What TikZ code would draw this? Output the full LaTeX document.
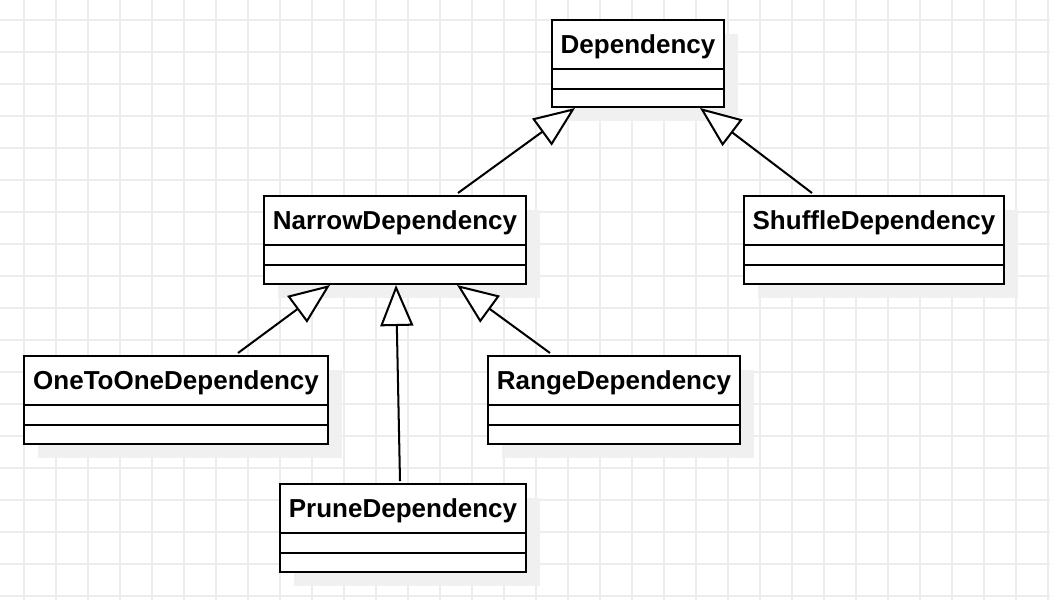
\documentclass[tikz,border=0pt]{standalone}
\usepackage{fontspec}
\setmainfont{Liberation Sans}
\usetikzlibrary{arrows.meta,shadows}
\tikzset{
  gridline/.style={line width=0.6pt, draw=black!7},
  classbox/.style={draw=black, fill=white, line width=1.15pt, inner sep=0pt,
    drop shadow={shadow xshift=0.28cm, shadow yshift=-0.28cm, fill=black!6, opacity=1}},
  divider/.style={draw=black, line width=1.15pt},
  classname/.style={font=\fontsize{14.8}{17}\selectfont\bfseries, inner sep=0pt},
  inherit/.style={line width=1.15pt, draw=black,
    -{Triangle[open, length=0.82cm, width=0.66cm, fill=white]}},
}

\begin{document}
\begin{tikzpicture}[x=0.02cm, y=-0.02cm]
\useasboundingbox (0,0) rectangle (1050,600);
\fill[white] (0,0) rectangle (1050,600);
\foreach \gx in {24,56,...,1048} \draw[gridline] (\gx,0) -- (\gx,600);
\foreach \gy in {20,52,...,596} \draw[gridline] (0,\gy) -- (1050,\gy);
% class boxes
\node[classbox, minimum width=3.44cm, minimum height=1.74cm] (dep) at (638,63.5) {};
\node[classbox, minimum width=5.24cm, minimum height=1.76cm] (narrow) at (395,240) {};
\node[classbox, minimum width=5.2cm, minimum height=1.76cm] (shuffle) at (874,240) {};
\node[classbox, minimum width=6.08cm, minimum height=1.76cm] (onetoone) at (176,400) {};
\node[classbox, minimum width=5.04cm, minimum height=1.76cm] (range) at (614,400) {};
\node[classbox, minimum width=4.92cm, minimum height=1.76cm] (prune) at (403,528) {};
% names
\node[classname] (depname) at ([yshift=-0.56cm]dep.north) {Dependency};
\node[classname] (narrowname) at ([yshift=-0.56cm]narrow.north) {NarrowDependency};
\node[classname] (shufflename) at ([yshift=-0.56cm]shuffle.north) {ShuffleDependency};
\node[classname] (onetoonename) at ([yshift=-0.56cm]onetoone.north) {OneToOneDependency};
\node[classname] (rangename) at ([yshift=-0.56cm]range.north) {RangeDependency};
\node[classname] (prunename) at ([yshift=-0.56cm]prune.north) {PruneDependency};
% compartments
\foreach \cls in {dep,narrow,shuffle,onetoone,range,prune} {
  \draw[divider] ([yshift=-1cm]\cls.north west) -- ([yshift=-1cm]\cls.north east);
  \draw[divider] ([yshift=-1.4cm]\cls.north west) -- ([yshift=-1.4cm]\cls.north east);
}
% generalisation
\draw[inherit] ([xshift=1.26cm, yshift=0.04cm]narrow.north) -- ([xshift=-1.26cm]dep.south);
\draw[inherit] ([xshift=-1.24cm, yshift=0.04cm]shuffle.north) -- ([xshift=1.24cm]dep.south);
\draw[inherit] ([xshift=1.24cm, yshift=0.04cm]onetoone.north) -- ([xshift=-1.3cm]narrow.south);
\draw[inherit] ([xshift=-0.06cm, yshift=0.04cm]prune.north) -- ([xshift=0.02cm]narrow.south);
\draw[inherit] ([xshift=-1.28cm, yshift=0.04cm]range.north) -- ([xshift=1.24cm]narrow.south);
\end{tikzpicture}
\end{document}
